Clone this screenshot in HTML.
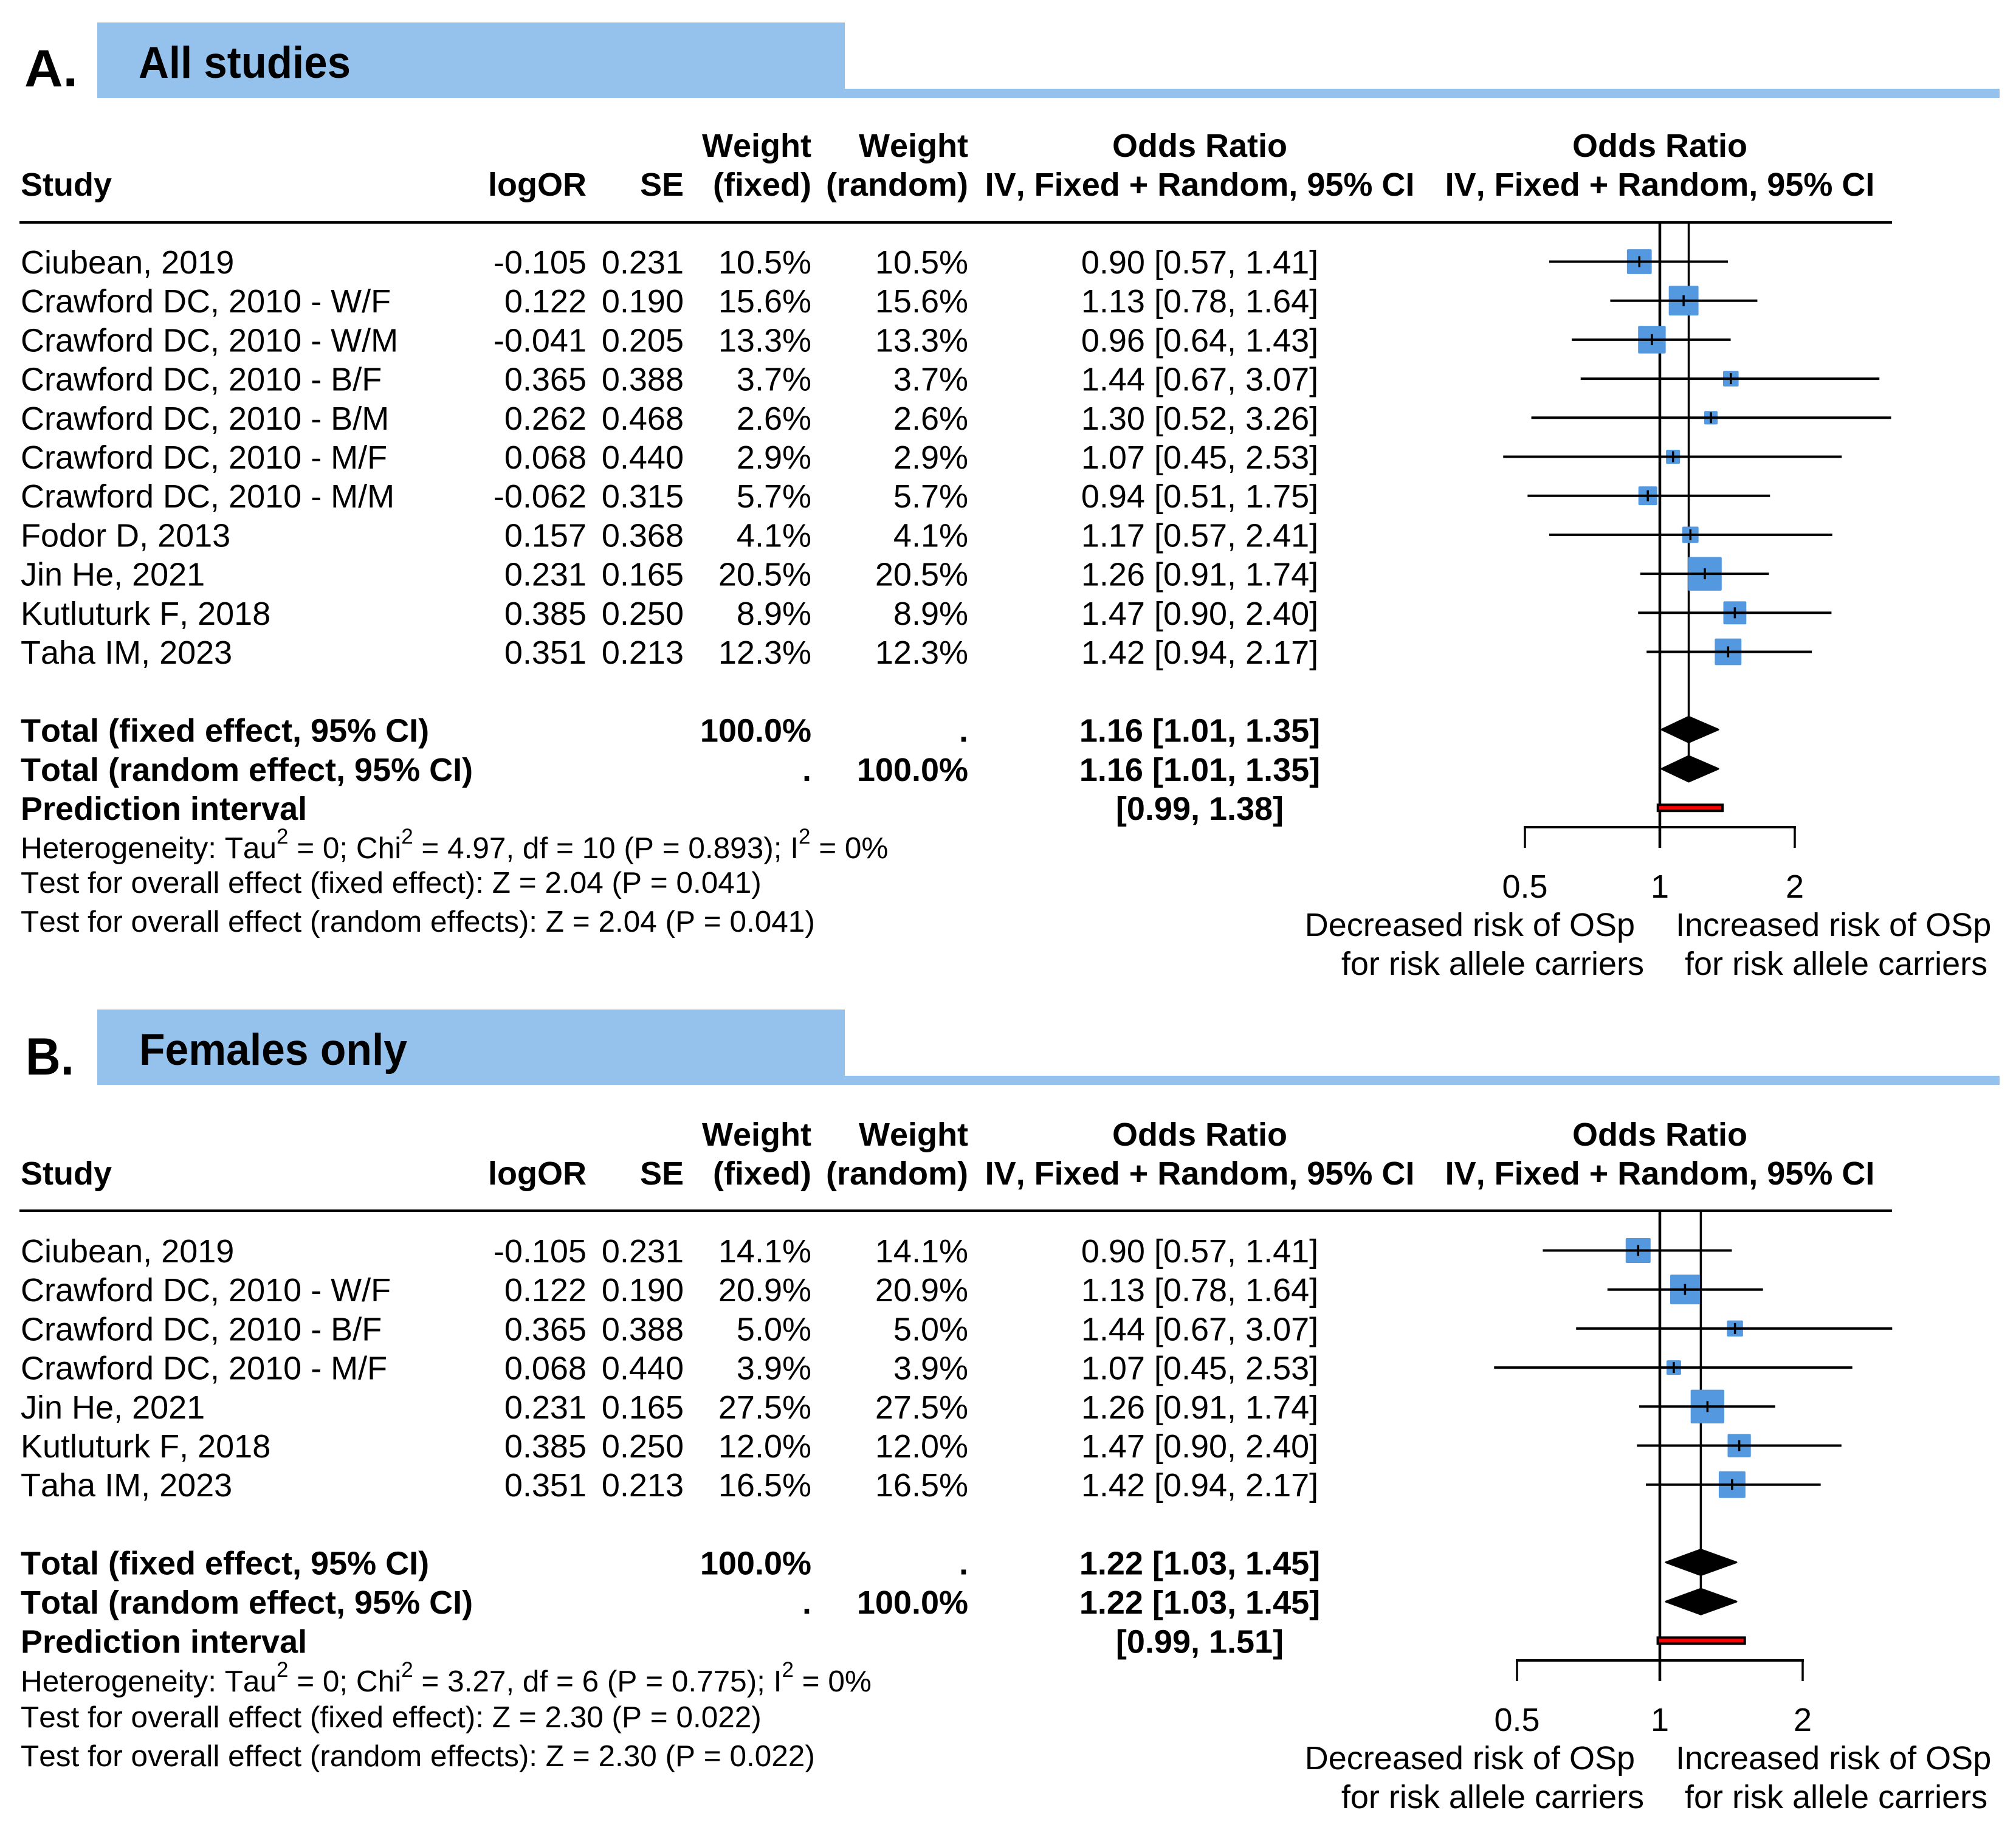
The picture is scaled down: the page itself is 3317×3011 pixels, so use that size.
<!DOCTYPE html>
<html lang="en">
<head>
<meta charset="utf-8">
<title>Forest plots: all studies and females only</title>
<style>
html,body{margin:0;padding:0;background:#fff;}
svg{display:block;}
text{font-family:"Liberation Sans",Arial,sans-serif;fill:#000;font-kerning:none;font-variant-ligatures:none;}
</style>
</head>
<body>
<svg id="figure" xmlns="http://www.w3.org/2000/svg" width="3317" height="3011" viewBox="0 0 3317 3011"></svg>
<script>
// Panel A data
const studiesA = ["Ciubean, 2019","Crawford DC, 2010 - W/F","Crawford DC, 2010 - W/M","Crawford DC, 2010 - B/F","Crawford DC, 2010 - B/M","Crawford DC, 2010 - M/F","Crawford DC, 2010 - M/M","Fodor D, 2013","Jin He, 2021","Kutluturk F, 2018","Taha IM, 2023"];
const logOrA = ["-0.105","0.122","-0.041","0.365","0.262","0.068","-0.062","0.157","0.231","0.385","0.351"];
const seA = ["0.231","0.190","0.205","0.388","0.468","0.440","0.315","0.368","0.165","0.250","0.213"];
const weightA = [10.5,15.6,13.3,3.7,2.6,2.9,5.7,4.1,20.5,8.9,12.3];
const orA = [0.90,1.13,0.96,1.44,1.30,1.07,0.94,1.17,1.26,1.47,1.42];
const lowerA = [0.57,0.78,0.64,0.67,0.52,0.45,0.51,0.57,0.91,0.90,0.94];
const upperA = [1.41,1.64,1.43,3.07,3.26,2.53,1.75,2.41,1.74,2.40,2.17];
const pooledA = [1.16,1.01,1.35];
const predictionA = [0.99,1.38];
const statsA = ["0","4.97","10","0.893","0"];
const testsA = ["2.04","0.041"];

// Panel B data
const studiesB = ["Ciubean, 2019","Crawford DC, 2010 - W/F","Crawford DC, 2010 - B/F","Crawford DC, 2010 - M/F","Jin He, 2021","Kutluturk F, 2018","Taha IM, 2023"];
const logOrB = ["-0.105","0.122","0.365","0.068","0.231","0.385","0.351"];
const seB = ["0.231","0.190","0.388","0.440","0.165","0.250","0.213"];
const weightB = [14.1,20.9,5.0,3.9,27.5,12.0,16.5];
const orB = [0.90,1.13,1.44,1.07,1.26,1.47,1.42];
const lowerB = [0.57,0.78,0.67,0.45,0.91,0.90,0.94];
const upperB = [1.41,1.64,3.07,2.53,1.74,2.40,2.17];
const pooledB = [1.22,1.03,1.45];
const predictionB = [0.99,1.51];
const statsB = ["0","3.27","6","0.775","0"];
const testsB = ["2.30","0.022"];

// Shared axis ticks
const axisTicks = [0.5,1,2];
const axisTickLabels = ["0.5","1","2"];

const svg = document.getElementById('figure');
const NS = 'http://www.w3.org/2000/svg';

function make(tag, attrs, name, parent) {
  const el = document.createElementNS(NS, tag);
  for (const k in attrs) { el.setAttribute(k, attrs[k]); }
  
  
  (parent || svg).appendChild(el);
  return el;
}

function label(str, x, y, name, parent, opts) {
  const o = opts || {};
  const attrs = { x: x, y: y, 'font-size': o.size || 54 };
  if (o.anchor) attrs['text-anchor'] = o.anchor;
  if (o.bold) attrs['font-weight'] = 'bold';
  if (o.fit) { attrs.textLength = o.fit; attrs.lengthAdjust = 'spacingAndGlyphs'; }
  const el = make('text', attrs, name, parent);
  el.textContent = str;
  return el;
}

function fmt(v) { return v.toFixed(2); }
function ciText(a) { return fmt(a[0]) + ' [' + fmt(a[1]) + ', ' + fmt(a[2]) + ']'; }

function drawPanel(p) {
  const g = make('g', {}, 'panel-' + p.id);
  const xScale = function (v) { return p.x1 + p.perDoubling * Math.log2(v); };
  const yRow = function (i) { return p.rowTop + 64.2 * i; };
  const COL = { left: 34, log: 965, se: 1125, wf: 1335, wr: 1593, ci: 1974, plot: 2731 };

  // Title band
  make('rect', { x: 160, y: p.bandTop, width: 1230, height: p.bandBottom - p.bandTop, fill: '#95c1ed' }, 'title-band', g);
  make('rect', { x: 1390, y: p.bandBottom - 15, width: 1900, height: 15, fill: '#95c1ed' }, 'title-band-strip', g);
  label(p.letter, p.letterX, p.letterY, 'panel-letter', g, { size: 86, bold: true, fit: p.letterFit });
  label(p.title, p.titleX, p.titleY, 'panel-title', g, { size: 73, bold: true, fit: p.titleFit });

  // Column headers
  const h2 = p.headerY, h1 = p.headerY - 64.2;
  label('Study', COL.left, h2, 'study-column-header', g, { bold: true });
  label('logOR', COL.log, h2, 'logor-column-header', g, { bold: true, anchor: 'end' });
  label('SE', COL.se, h2, 'se-column-header', g, { bold: true, anchor: 'end' });
  label('Weight', COL.wf, h1, 'weight-fixed-header', g, { bold: true, anchor: 'end' });
  label('(fixed)', COL.wf, h2, 'weight-fixed-subheader', g, { bold: true, anchor: 'end' });
  label('Weight', COL.wr, h1, 'weight-random-header', g, { bold: true, anchor: 'end' });
  label('(random)', COL.wr, h2, 'weight-random-subheader', g, { bold: true, anchor: 'end' });
  label('Odds Ratio', COL.ci, h1, 'odds-ratio-header', g, { bold: true, anchor: 'middle' });
  label('IV, Fixed + Random, 95% CI', COL.ci, h2, 'odds-ratio-subheader', g, { bold: true, anchor: 'middle' });
  label('Odds Ratio', COL.plot, h1, 'plot-odds-ratio-header', g, { bold: true, anchor: 'middle' });
  label('IV, Fixed + Random, 95% CI', COL.plot, h2, 'plot-odds-ratio-subheader', g, { bold: true, anchor: 'middle' });
  make('line', { x1: 32, x2: 3113, y1: p.ruleY, y2: p.ruleY, stroke: '#000', 'stroke-width': 4 }, 'header-rule', g);

  // Study rows: text
  p.studies.forEach(function (s, i) {
    const y = yRow(i) + 20;
    label(s, COL.left, y, 'study-name', g);
    label(p.logOr[i], COL.log, y, 'logor-value', g, { anchor: 'end' });
    label(p.se[i], COL.se, y, 'se-value', g, { anchor: 'end' });
    label(p.weight[i].toFixed(1) + '%', COL.wf, y, 'weight-fixed-value', g, { anchor: 'end' });
    label(p.weight[i].toFixed(1) + '%', COL.wr, y, 'weight-random-value', g, { anchor: 'end' });
    label(ciText([p.or[i], p.lower[i], p.upper[i]]), COL.ci, y, 'odds-ratio-value', g, { anchor: 'middle' });
  });

  // Summary rows
  const n = p.studies.length;
  const yFixed = yRow(n + 1), yRandom = yFixed + 64.6, yPred = yRandom + 64.2;
  label('Total (fixed effect, 95% CI)', COL.left, yFixed + 20, 'total-fixed-label', g, { bold: true });
  label('100.0%', COL.wf, yFixed + 20, 'total-fixed-weight', g, { bold: true, anchor: 'end' });
  label('.', COL.wr, yFixed + 20, 'total-fixed-random-weight', g, { bold: true, anchor: 'end' });
  label(ciText(p.pooled), COL.ci, yFixed + 20, 'total-fixed-ci', g, { bold: true, anchor: 'middle' });
  label('Total (random effect, 95% CI)', COL.left, yRandom + 20, 'total-random-label', g, { bold: true });
  label('.', COL.wf, yRandom + 20, 'total-random-fixed-weight', g, { bold: true, anchor: 'end' });
  label('100.0%', COL.wr, yRandom + 20, 'total-random-weight', g, { bold: true, anchor: 'end' });
  label(ciText(p.pooled), COL.ci, yRandom + 20, 'total-random-ci', g, { bold: true, anchor: 'middle' });
  label('Prediction interval', COL.left, yPred + 20, 'prediction-interval-label', g, { bold: true });
  label('[' + fmt(p.prediction[0]) + ', ' + fmt(p.prediction[1]) + ']', COL.ci, yPred + 20, 'prediction-interval-value', g, { bold: true, anchor: 'middle' });

  // Heterogeneity note with superscripts
  const het = make('text', { x: COL.left, y: p.noteY[0], 'font-size': 49.5 }, 'heterogeneity-note', g);
  const parts = ['Heterogeneity: Tau', '^', ' = ' + p.stats[0] + '; Chi', '^', ' = ' + p.stats[1] + ', df = ' + p.stats[2] + ' (P = ' + p.stats[3] + '); I', '^', ' = ' + p.stats[4] + '%'];
  let shift = 0;
  parts.forEach(function (t) {
    const sp = document.createElementNS(NS, 'tspan');
    if (t === '^') {
      sp.setAttribute('font-size', '35');
      sp.setAttribute('dy', -24);
      sp.textContent = '2';
      shift = 24;
    } else {
      sp.setAttribute('dy', shift);
      sp.textContent = t;
      shift = 0;
    }
    het.appendChild(sp);
  });
  label('Test for overall effect (fixed effect): Z = ' + p.tests[0] + ' (P = ' + p.tests[1] + ')', COL.left, p.noteY[1], 'test-fixed-note', g, { size: 49.5 });
  label('Test for overall effect (random effects): Z = ' + p.tests[0] + ' (P = ' + p.tests[1] + ')', COL.left, p.noteY[2], 'test-random-note', g, { size: 49.5 });

  // Reference lines
  make('line', { x1: xScale(1), x2: xScale(1), y1: p.ruleY, y2: p.axisY + 34, stroke: '#000', 'stroke-width': 4.5 }, 'null-effect-line', g);
  make('line', { x1: xScale(p.pooled[0]), x2: xScale(p.pooled[0]), y1: p.ruleY, y2: yRandom, stroke: '#000', 'stroke-width': 3.5 }, 'pooled-effect-line', g);

  // Study marks
  p.studies.forEach(function (s, i) {
    const y = yRow(i) + 0.5, cx = xScale(p.or[i]);
    const size = p.sizeA + p.sizeB * Math.sqrt(p.weight[i]);
    make('rect', { x: cx - size / 2, y: y - size / 2, width: size, height: size, rx: 2, fill: '#5499e0' }, 'study-weight-square', g);
    make('line', { x1: xScale(p.lower[i]), x2: xScale(p.upper[i]), y1: y, y2: y, stroke: '#000', 'stroke-width': 4, 'stroke-linecap': 'square' }, 'study-ci-line', g);
    make('line', { x1: cx, x2: cx, y1: y - 9, y2: y + 9, stroke: '#000', 'stroke-width': 3.5 }, 'study-estimate-tick', g);
  });

  // Pooled diamonds
  [yFixed, yRandom].forEach(function (y, i) {
    const cx = xScale(p.pooled[0]);
    const pts = [xScale(p.pooled[1]) + ',' + y, cx + ',' + (y - 21), xScale(p.pooled[2]) + ',' + y, cx + ',' + (y + 21)].join(' ');
    make('polygon', { points: pts, fill: '#000', stroke: '#000', 'stroke-width': 3, 'stroke-linejoin': 'round' }, i === 0 ? 'fixed-effect-diamond' : 'random-effect-diamond', g);
  });

  // Prediction bar
  const barX = xScale(p.prediction[0]);
  make('rect', { x: barX, y: yPred - 5, width: xScale(p.prediction[1]) - barX, height: 10, fill: '#f00', stroke: '#000', 'stroke-width': 4 }, 'prediction-interval-bar', g);

  // Axis
  make('line', { x1: xScale(axisTicks[0]) - 2, x2: xScale(axisTicks[2]) + 2, y1: p.axisY, y2: p.axisY, stroke: '#000', 'stroke-width': 4 }, 'x-axis-line', g);
  axisTicks.forEach(function (t, i) {
    make('line', { x1: xScale(t), x2: xScale(t), y1: p.axisY, y2: p.axisY + 34, stroke: '#000', 'stroke-width': 3.5 }, 'x-axis-tick', g);
    label(axisTickLabels[i], xScale(t), p.tickLabelY, 'x-axis-tick-label', g, { anchor: 'middle' });
  });

  // Direction labels
  label('Decreased risk of OSp', 2690, p.tickLabelY + 63, 'decreased-risk-label', g, { anchor: 'end' });
  label('for risk allele carriers', 2705, p.tickLabelY + 127, 'decreased-risk-sublabel', g, { anchor: 'end' });
  label('Increased risk of OSp', 2757, p.tickLabelY + 63, 'increased-risk-label', g);
  label('for risk allele carriers', 2772, p.tickLabelY + 127, 'increased-risk-sublabel', g);
}

drawPanel({
  id: 'a', letter: 'A.', title: 'All studies',
  studies: studiesA, logOr: logOrA, se: seA, weight: weightA, or: orA, lower: lowerA, upper: upperA,
  pooled: pooledA, prediction: predictionA, stats: statsA, tests: testsA,
  x1: 2731, perDoubling: 222, rowTop: 430, ruleY: 366, headerY: 322,
  bandTop: 37, bandBottom: 161, letterX: 40, letterY: 142, letterFit: 88,
  titleX: 228, titleY: 128, titleFit: 349,
  noteY: [1412, 1469, 1533], axisY: 1361, tickLabelY: 1477, sizeA: 3.5, sizeB: 11.5
});

drawPanel({
  id: 'b', letter: 'B.', title: 'Females only',
  studies: studiesB, logOr: logOrB, se: seB, weight: weightB, or: orB, lower: lowerB, upper: upperB,
  pooled: pooledB, prediction: predictionB, stats: statsB, tests: testsB,
  x1: 2731, perDoubling: 235, rowTop: 2057, ruleY: 1992, headerY: 1949,
  bandTop: 1661, bandBottom: 1785, letterX: 42, letterY: 1768, letterFit: 80,
  titleX: 229, titleY: 1752, titleFit: 441,
  noteY: [2783, 2842, 2906], axisY: 2732, tickLabelY: 2848, sizeA: 5, sizeB: 9.6
});
</script>
</body>
</html>
